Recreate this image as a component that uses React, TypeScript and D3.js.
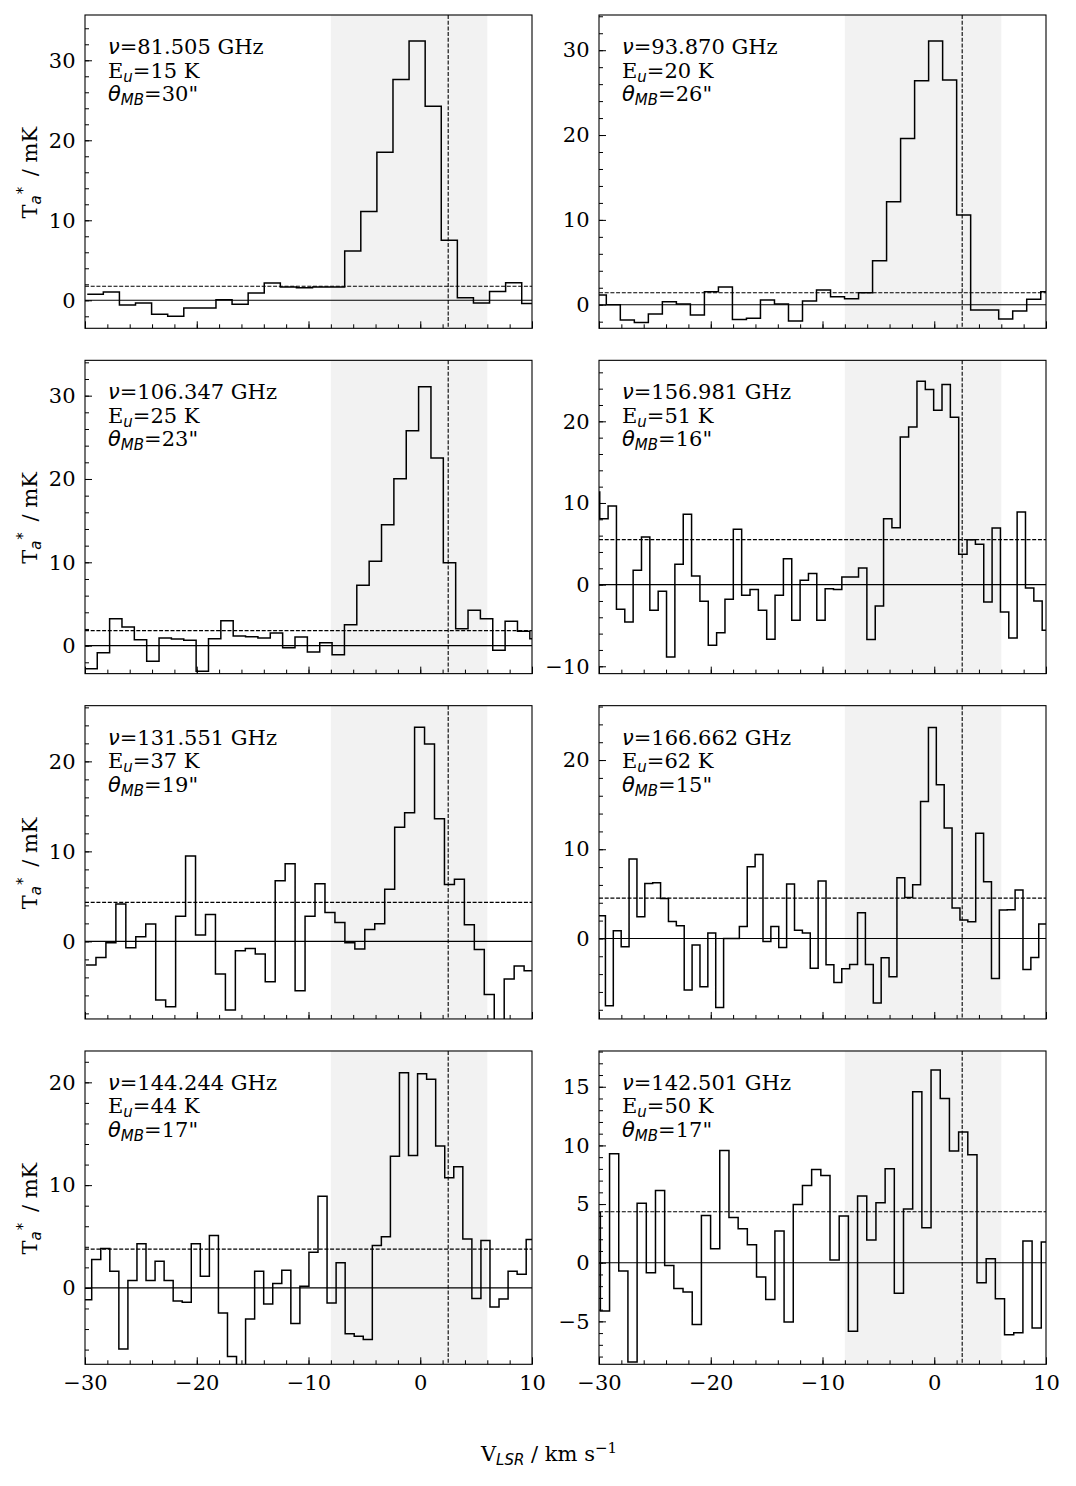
import { useEffect, useRef } from 'react';
import * as d3 from 'd3';

// panels in reading order: row by row, left then right
const frequencies = ['81.505', '93.870', '106.347', '156.981', '131.551', '166.662', '144.244', '142.501'];
const upperEnergies = [15, 20, 25, 51, 37, 62, 44, 50];
const beamSizes = [30, 26, 23, 16, 19, 15, 17, 17];

// first channel edge and channel width (km/s)
const startVelocities = [-29.8, -30.6, -30.01, -30.68, -29.91, -30.13, -30.21, -30.7];
const channelWidths = [1.44, 1.254, 1.106, 0.747, 0.891, 0.705, 0.81, 0.822];

// dashed noise level (mK)
const rmsLevels = [1.75, 1.41, 1.8, 5.51, 4.33, 4.52, 3.77, 4.35];

const yDomains: [number, number][] = [
  [-3.5, 35.66], [-2.78, 34.15],
  [-3.36, 34.24], [-10.9, 27.47],
  [-8.62, 26.19], [-9.03, 26.1],
  [-7.43, 23.05], [-8.66, 18.05],
];
const yMajorSteps = [10, 10, 10, 10, 10, 10, 10, 5];
const yMinorSteps = [2, 2, 2, 2, 2, 2, 2, 1];

const xDomain = [-30, 10];
const xMajorTicks = [-30, -20, -10, 0, 10];
const xMinorStep = 2;
const integrationRange = [-8, 6];
const sourceVelocity = 2.5;

const spec81 = [0.75, 1.04, -0.58, -0.33, -1.75, -2.0, -0.96, -0.96, 0.08, -0.5, 0.92, 2.17, 1.67, 1.58,
  1.67, 1.67, 6.17, 11.1, 18.5, 27.6, 32.4, 24.25, 7.5, 0.33, -0.33, 1.1, 2.2, -0.4];
const spec93 = [1.14, 0, -1.8, -2.1, -1.1, 0.35, 0.08, -1.2, 1.53, 2.1, -1.73, -1.6, 0.55, 0.08, -1.93,
  0.43, 1.73, 0.94, 0.7, 1.41, 5.19, 12.14, 19.6, 26.4, 31.1, 26.5, 10.57, -0.63, -0.63, -1.69, -0.75, 0.63, 1.53];
const spec106 = [-2.76, -0.84, 3.24, 2.24, 0.72, -1.88, 0.92, 0.8, 0.64, -3.08, 0.84, 3.0, 1.16, 1.08, 0.92,
  1.52, -0.24, 1.04, -0.76, 0.36, -1.08, 2.52, 7.24, 10.12, 14.52, 20.04, 25.8, 31.08, 22.52, 9.96, 2.04,
  4.24, 3.24, -0.56, 2.92, 1.72, 0.84];
const spec156 = [11.35, 8.08, 9.63, -3.02, -4.57, 1.76, 5.84, -3.14, -0.82, -8.86, 2.49, 8.61, 1.06, -2.04,
  -7.43, -5.88, -1.8, 6.78, -1.31, -0.61, -3.14, -6.69, -1.31, 3.18, -4.37, 0.53, 1.35, -4.37, -0.49, -0.61,
  0.94, 0.94, 2.04, -6.73, -2.61, 8.08, 6.98, 18.08, 19.31, 24.9, 23.9, 21.35, 24.5, 20.5, 3.71, 5.51, 4.94,
  -2.12, 6.94, -3.35, -6.53, 8.9, -0.41, -2.0, -5.59];
const spec131 = [-2.63, -1.78, -0.15, 4.15, -0.7, 0.52, 1.93, -6.52, -7.26, 2.78, 9.48, 0.7, 3.0, -3.63,
  -7.63, -1.04, -0.78, -1.41, -4.48, 6.74, 8.63, -5.48, 2.78, 6.41, 3.22, 2.11, -0.15, -0.85, 1.33, 1.96,
  5.78, 12.67, 14.3, 23.78, 21.93, 13.63, 6.33, 6.89, 1.85, -0.89, -5.89, -10, -4.19, -2.74, -3.26];
const spec166 = [2.54, -7.55, 0.86, -0.93, 8.9, 2.43, 6.17, 6.24, 4.49, 1.91, 1.42, -5.79, -0.75, -5.42,
  0.6, -7.74, 0, 0, 1.35, 8.04, 9.42, -0.34, 1.35, -1.01, 6.09, 0.93, 0.6, -3.33, 6.43, -2.95, -4.93, -3.4,
  -2.92, 2.88, -2.92, -7.25, -2.17, -4.3, 6.8, 4.6, 6.02, 15.36, 23.66, 17.23, 12.37, 3.4, 2.06, 1.87,
  11.78, 6.36, -4.49, 3.18, 3.21, 5.42, -3.48, -2.13, 1.61];
const spec144 = [-1.14, 2.76, 3.83, 1.62, -5.94, 0.71, 4.29, 0.71, 2.6, 0.71, -1.27, -1.4, 4.29, 1.14, 5.1,
  -2.44, -6.66, -8, -3.02, 1.62, -1.56, 0.42, 1.72, -3.47, 0.16, 3.47, 8.93, -1.46, 2.44, -4.45, -4.71,
  -5.03, 4.12, 4.97, 12.82, 20.94, 12.89, 20.84, 20.29, 13.8, 10.71, 11.79, 4.77, -1.04, 4.61, -1.85,
  -1.07, 1.62, 1.33, 4.71];
const spec142 = [4.26, -4.12, 9.29, -0.71, -8.47, 5.06, -0.85, 6.16, -0.23, -2.19, -2.5, -5.26, 4.03, 1.19,
  9.57, 3.86, 2.9, 1.53, -1.22, -3.13, 2.7, -5.06, 4.97, 6.59, 7.95, 7.44, 0.23, 3.98, -5.85, 5.68, 1.93,
  5.11, 8.01, -2.61, 4.57, 14.57, 2.98, 16.42, 14.0, 9.52, 11.14, 9.2, -1.7, 0.34, -3.07, -6.14, -5.97,
  1.85, -5.57, 1.76];

const spectra = [spec81, spec93, spec106, spec156, spec131, spec166, spec144, spec142];

const serif = 'DejaVu Serif';
const sans = 'DejaVu Sans';
const fs = 21;
const subFs = 15;

export default function App() {
  const svgRef = useRef<SVGSVGElement>(null);

  useEffect(() => {
    if (!svgRef.current) return;
    const svg = d3.select(svgRef.current);
    svg.selectAll('*').remove();

    const panelW = 447;
    const panelH = 313.3;
    const colLeft = [85, 599];
    const rowStep = 345.33;
    const defs = svg.append('defs');

    spectra.forEach((vals, i) => {
      const row = Math.floor(i / 2);
      const col = i % 2;
      const left = colLeft[col];
      const top = 15 + row * rowStep;

      const x = d3.scaleLinear().domain(xDomain).range([0, panelW]);
      const y = d3.scaleLinear().domain(yDomains[i]).range([panelH, 0]);

      const g = svg.append('g').attr('transform', `translate(${left},${top})`);

      defs.append('clipPath').attr('id', `clip${i}`)
        .append('rect').attr('width', panelW).attr('height', panelH);
      const plot = g.append('g').attr('clip-path', `url(#clip${i})`);

      // integration window
      plot.append('rect')
        .attr('x', x(integrationRange[0]))
        .attr('width', x(integrationRange[1]) - x(integrationRange[0]))
        .attr('y', 0).attr('height', panelH)
        .attr('fill', '#f2f2f2');

      // baseline
      plot.append('line')
        .attr('x1', 0).attr('x2', panelW)
        .attr('y1', y(0)).attr('y2', y(0))
        .attr('stroke', '#000').attr('stroke-width', 1.1);

      // noise level
      plot.append('line')
        .attr('x1', 0).attr('x2', panelW)
        .attr('y1', y(rmsLevels[i])).attr('y2', y(rmsLevels[i]))
        .attr('stroke', '#000').attr('stroke-width', 1.1)
        .attr('stroke-dasharray', '4,1.7');

      // spectrum
      const start = startVelocities[i];
      const dv = channelWidths[i];
      const pts: [number, number][] = vals.map((v, k) => [start + k * dv, v]);
      pts.push([start + vals.length * dv, vals[vals.length - 1]]);
      const line = d3.line<[number, number]>()
        .x(d => x(d[0]))
        .y(d => y(d[1]))
        .curve(d3.curveStepAfter);
      plot.append('path')
        .datum(pts)
        .attr('fill', 'none')
        .attr('stroke', '#000')
        .attr('stroke-width', 1.5)
        .attr('d', line);

      // source velocity
      plot.append('line')
        .attr('x1', x(sourceVelocity)).attr('x2', x(sourceVelocity))
        .attr('y1', 0).attr('y2', panelH)
        .attr('stroke', '#000').attr('stroke-width', 1.1)
        .attr('stroke-dasharray', '4,1.7');

      // axes (ticks pointing inward)
      const [y0, y1] = yDomains[i];
      const yMajors = d3.range(Math.ceil(y0 / yMajorSteps[i]) * yMajorSteps[i], y1, yMajorSteps[i]);
      const yMinors = d3.range(Math.ceil(y0 / yMinorSteps[i]) * yMinorSteps[i], y1, yMinorSteps[i]);
      const xMinors = d3.range(xDomain[0], xDomain[1] + 0.01, xMinorStep);

      const style = (sel: d3.Selection<SVGGElement, unknown, null, undefined>) => {
        sel.select('.domain').remove();
        sel.attr('font-family', serif).attr('font-size', fs);
        sel.selectAll('line').attr('stroke', '#000').attr('stroke-width', 1);
        sel.selectAll('text').attr('fill', '#000');
      };

      g.append('g')
        .call(d3.axisLeft(y).tickValues(yMinors).tickSize(-4).tickFormat(() => ''))
        .call(style);
      g.append('g')
        .call(d3.axisLeft(y).tickValues(yMajors).tickSize(-7).tickPadding(9.5).tickFormat(d3.format('d')))
        .call(style);
      g.append('g')
        .attr('transform', `translate(0,${panelH})`)
        .call(d3.axisBottom(x).tickValues(xMinors).tickSize(-4).tickFormat(() => ''))
        .call(style);
      g.append('g')
        .attr('transform', `translate(0,${panelH})`)
        .call(d3.axisBottom(x).tickValues(xMajorTicks).tickSize(-7).tickPadding(11)
          .tickFormat(row === 3 ? d3.format('d') : () => ''))
        .call(style);

      // frame
      g.append('rect')
        .attr('width', panelW).attr('height', panelH)
        .attr('fill', 'none').attr('stroke', '#000').attr('stroke-width', 1.1);

      // line info
      const info = g.append('g').attr('font-family', serif).attr('font-size', fs).attr('fill', '#000');
      const tx = 23;
      const t1 = info.append('text').attr('x', tx).attr('y', 39);
      t1.append('tspan').attr('font-family', sans).attr('font-style', 'italic').text('ν');
      t1.append('tspan').text(`=${frequencies[i]} GHz`);

      const t2 = info.append('text').attr('x', tx).attr('y', 62.5);
      t2.append('tspan').text('E');
      t2.append('tspan').attr('font-family', sans).attr('font-style', 'italic')
        .attr('font-size', subFs).attr('dy', 4).text('u');
      t2.append('tspan').attr('dy', -4).text(`=${upperEnergies[i]} K`);

      const t3 = info.append('text').attr('x', tx).attr('y', 86);
      t3.append('tspan').attr('font-family', sans).attr('font-style', 'italic').text('θ');
      t3.append('tspan').attr('font-family', sans).attr('font-style', 'italic')
        .attr('font-size', subFs).attr('dy', 4).text('MB');
      t3.append('tspan').attr('dy', -4).text(`=${beamSizes[i]}"`);

      // y label on the left column
      if (col === 0) {
        const yl = svg.append('text')
          .attr('transform', `translate(37,${top + panelH / 2 + 1}) rotate(-90)`)
          .attr('text-anchor', 'middle')
          .attr('font-family', serif).attr('font-size', fs).attr('fill', '#000');
        yl.append('tspan').text('T');
        yl.append('tspan').attr('font-family', sans).attr('font-style', 'italic')
          .attr('font-size', subFs).attr('dy', 4).text('a');
        yl.append('tspan').attr('font-family', sans)
          .attr('font-size', subFs).attr('dy', -13).attr('dx', 1).text('*');
        yl.append('tspan').attr('dy', 9).attr('dx', 4).text(' / mK');
      }
    });

    // shared x label
    const xl = svg.append('text')
      .attr('x', 549).attr('y', 1461)
      .attr('text-anchor', 'middle')
      .attr('font-family', serif).attr('font-size', fs).attr('fill', '#000');
    xl.append('tspan').text('V');
    xl.append('tspan').attr('font-family', sans).attr('font-style', 'italic')
      .attr('font-size', subFs).attr('dy', 4).text('LSR');
    xl.append('tspan').attr('dy', -4).text(' / km s');
    xl.append('tspan').attr('font-size', subFs).attr('dy', -8).text('−1');
  }, []);

  return (
    <svg ref={svgRef} width={1076} height={1486}
      style={{ display: 'block', position: 'absolute', left: 0, top: 0, background: '#fff' }} />
  );
}
